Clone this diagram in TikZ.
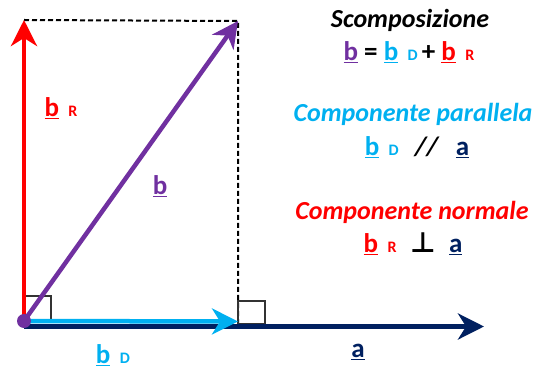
\documentclass[tikz,border=0pt]{standalone}
\usepackage{fontspec}
\setmainfont{Carlito}
\newfontfamily\symfont{DejaVu Sans}
\usetikzlibrary{arrows.meta}

\definecolor{vpurple}{HTML}{7030A0}
\definecolor{vcyan}{HTML}{00B0F0}
\definecolor{vred}{HTML}{FF0000}
\definecolor{vnavy}{HTML}{002060}

% underlined vector with small index
\newcommand{\vsub}[2]{\underline{#1}\hspace{0.35em}{\fontsize{16}{16}\selectfont #2}}

\begin{document}
\begin{tikzpicture}[x=1pt, y=-1pt,
    vec/.style={-{Stealth[length=26pt, width=26pt, inset=8pt]}, line width=4.5pt},
    guide/.style={dashed, dash pattern=on 5pt off 3pt, line width=2pt},
    rangle/.style={draw=black!80, line width=1.4pt},
    lbl/.style={font=\fontsize{27}{27}\selectfont\bfseries, inner sep=0pt},
    head/.style={font=\fontsize{26}{26}\selectfont\bfseries\itshape, inner sep=0pt}
  ]
  \useasboundingbox (0,0) rectangle (534,371);

  \coordinate (O)    at (24,321);
  \coordinate (Oa)   at (24,326.5);
  \coordinate (aend) at (484,326.5);
  \coordinate (Dend) at (238,321.5);
  \coordinate (Rend) at (24,20);
  \coordinate (bend) at (238,21);
  \coordinate (foot) at (238,324);

  % parallelogram guides and right angles
  \draw[guide] (Rend) -- (bend) -- (foot);
  \draw[rangle] (24,296) rectangle (51,321);
  \draw[rangle] (238,301) rectangle (265,324);

  % vectors
  \draw[vec, vnavy]   (Oa) -- (aend);
  \draw[vec, vcyan]   (O)  -- (Dend);
  \draw[vec, vred]    (O)  -- (Rend);
  \draw[vec, vpurple] (O)  -- (bend);
  \fill[vpurple] (O) circle (7pt);

  % vector labels
  \node[lbl, vred]    (lR) at (61,108)  {\vsub{b}{R}};
  \node[lbl, vpurple] (lb) at (160,186) {\underline{b}};
  \node[lbl, vcyan]   (lD) at (113,355) {\vsub{b}{D}};
  \node[lbl, vnavy]   (la) at (358,352) {\underline{a}};

  % decomposition text
  \node[head]              (t1) at (410,20)  {Scomposizione};
  \node[lbl, below=0pt]    (f1) at (409,41)  {\textcolor{vpurple}{\underline{b}} = \textcolor{vcyan}{\vsub{b}{D}}\hspace{0.15em}+ \textcolor{vred}{\vsub{b}{R}}};
  \node[head, vcyan]       (t2) at (413,114) {Componente parallela};
  \node[lbl, below=0pt]    (f2) at (417,136) {\textcolor{vcyan}{\vsub{b}{D}}\hspace{0.6em}\textit{//}\hspace{0.6em}\textcolor{vnavy}{\underline{a}}};
  \node[head, vred]        (t3) at (412,212) {Componente normale};
  \node[lbl, below=0pt]    (f3) at (413,233) {\textcolor{vred}{\vsub{b}{R}}\hspace{0.5em}{\symfont\fontsize{28}{28}\selectfont\bfseries ⊥}\hspace{0.5em}\textcolor{vnavy}{\underline{a}}};
\end{tikzpicture}
\end{document}
